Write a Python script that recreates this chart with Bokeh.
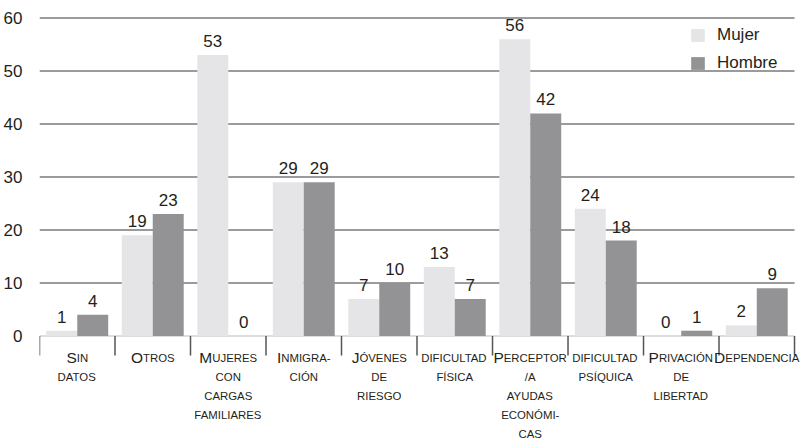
from bokeh.plotting import figure
from bokeh.models import ColumnDataSource, FixedTicker, Range1d, Legend, LegendItem
from bokeh.embed import file_html
from bokeh.resources import INLINE
from bokeh.core.properties import value

# --- data -------------------------------------------------------------
category_lines = [
    ["Sin", "datos"],
    ["Otros"],
    ["Mujeres", "con", "cargas", "familiares"],
    ["Inmigra-", "ción"],
    ["Jóvenes", "de", "riesgo"],
    ["dificultad", "física"],
    ["Perceptor", "/a", "ayudas", "económi-", "cas"],
    ["dificultad", "psíquica"],
    ["Privación", "de", "libertad"],
    ["Dependencia"],
]
mujer = [1, 19, 53, 29, 7, 13, 56, 24, 0, 2]
hombre = [4, 23, 0, 29, 10, 7, 42, 18, 1, 9]
y_ticks = [0, 10, 20, 30, 40, 50, 60]

# --- style ------------------------------------------------------------
FONT = "Liberation Sans"
TEXT = "#231f20"
C_MUJER = "#e5e5e7"
C_HOMBRE = "#939396"
BIG, SMALL = 15.5, 11.4      # small-caps sizes for category labels
BAR_W, BAR_OFF = 0.41, 0.205

# Liberation Sans advance widths (1/1000 em) for centring small-caps runs
CHAR_W = {c: w for c, w in zip("ABCDEFGHIJKLMNOPQRSTUVWXYZ",
          [667, 667, 722, 722, 667, 611, 778, 722, 278, 500, 667, 556, 833,
           722, 778, 667, 778, 722, 667, 611, 722, 667, 944, 667, 667, 611])}
CHAR_W.update({"Á": 667, "É": 667, "Í": 278, "Ó": 778, "Ú": 722,
               "-": 333, "/": 278, " ": 278})


def run_width(s, size):
    return sum(CHAR_W.get(c, 600) for c in s) * size / 1000.0


n = len(category_lines)
centers = [i + 0.5 for i in range(n)]

W, H = 807, 440
LEFT = 38
CAT_PX = 75.6                # pixel width of one category slot
PX_PER_UNIT = 5.3
ZERO_PX = 335.5
y_top = 60 + 17.5 / PX_PER_UNIT
y_bot = -(H - ZERO_PX) / PX_PER_UNIT
x_end = (W - LEFT) / CAT_PX  # frame runs to the page edge so labels are not clipped

p = figure(width=W, height=H, output_backend="svg", toolbar_location=None,
           x_range=Range1d(0, x_end), y_range=Range1d(y_bot, y_top),
           min_border_left=LEFT, min_border_right=0, min_border_top=0,
           min_border_bottom=0, outline_line_color=None)
p.xaxis.visible = False
p.xgrid.visible = False
p.ygrid.visible = False

# y axis: labels only
ya = p.yaxis[0]
ya.ticker = FixedTicker(ticks=y_ticks)
ya.axis_line_color = None
ya.major_tick_line_color = None
ya.minor_tick_line_color = None
ya.major_label_standoff = 11
ya.major_label_text_font = FONT
ya.major_label_text_font_size = "17px"
ya.major_label_text_color = TEXT

# horizontal grid lines across the category slots
grid_y = y_ticks[1:]
p.segment(x0=[0] * len(grid_y), y0=grid_y, x1=[n] * len(grid_y), y1=grid_y,
          line_color="#7a7a7a", line_width=1.4)

# baseline at zero
p.segment(x0=[0], y0=[0], x1=[n], y1=[0], line_color="#d2d2d2", line_width=1.5)

# bars
src = ColumnDataSource(dict(
    xm=[c - BAR_OFF for c in centers], xh=[c + BAR_OFF for c in centers],
    mujer=mujer, hombre=hombre,
    lm=[str(v) for v in mujer], lh=[str(v) for v in hombre]))
rm = p.vbar(x="xm", top="mujer", bottom=0, width=BAR_W, source=src,
            fill_color=C_MUJER, line_color=None)
rh = p.vbar(x="xh", top="hombre", bottom=0, width=BAR_W, source=src,
            fill_color=C_HOMBRE, line_color=None)

# value labels above the bars
for xcol, ycol, lcol in (("xm", "mujer", "lm"), ("xh", "hombre", "lh")):
    p.text(x=xcol, y=ycol, text=lcol, source=src, y_offset=-14,
           text_align="center", text_baseline="alphabetic",
           text_font=value(FONT), text_font_size="17px", text_color=TEXT)

# category separators below the baseline
tick_len = 19.5 / PX_PER_UNIT
bounds = list(range(n + 1))
p.segment(x0=bounds, y0=[0] * len(bounds), x1=bounds, y1=[-tick_len] * len(bounds),
          line_color="#555555", line_width=1.5)

# category labels in small caps
runs = {BIG: dict(x=[], xo=[], yo=[], t=[]), SMALL: dict(x=[], xo=[], yo=[], t=[])}
for i, lines in enumerate(category_lines):
    for j, line in enumerate(lines):
        parts = []
        for ch in line:
            size = BIG if ch.isupper() else SMALL
            if parts and parts[-1][1] == size:
                parts[-1][0] += ch.upper()
            else:
                parts.append([ch.upper(), size])
        total = sum(run_width(t, s) for t, s in parts)
        off = -total / 2
        for t, s in parts:
            d = runs[s]
            d["x"].append(centers[i])
            d["xo"].append(off)
            d["yo"].append(21.5 + 19 * j)
            d["t"].append(t)
            off += run_width(t, s)
for size, d in runs.items():
    s = ColumnDataSource(dict(x=d["x"], y=[0] * len(d["x"]), xo=d["xo"], yo=d["yo"], t=d["t"]))
    p.text(x="x", y="y", text="t", x_offset="xo", y_offset="yo", source=s,
           text_align="left", text_baseline="alphabetic",
           text_font=value(FONT), text_font_size=f"{size}px", text_color=TEXT)

legend = Legend(items=[LegendItem(label="Mujer", renderers=[rm]),
                       LegendItem(label="Hombre", renderers=[rh])],
                location=(650, 367), margin=0, padding=0, spacing=8,
                glyph_width=17, glyph_height=16, label_height=20,
                label_standoff=11, label_text_font=FONT,
                label_text_font_size="17px", label_text_color=TEXT,
                background_fill_alpha=0, border_line_alpha=0)
p.add_layout(legend)

open("out.html", "w").write(file_html(p, INLINE))
